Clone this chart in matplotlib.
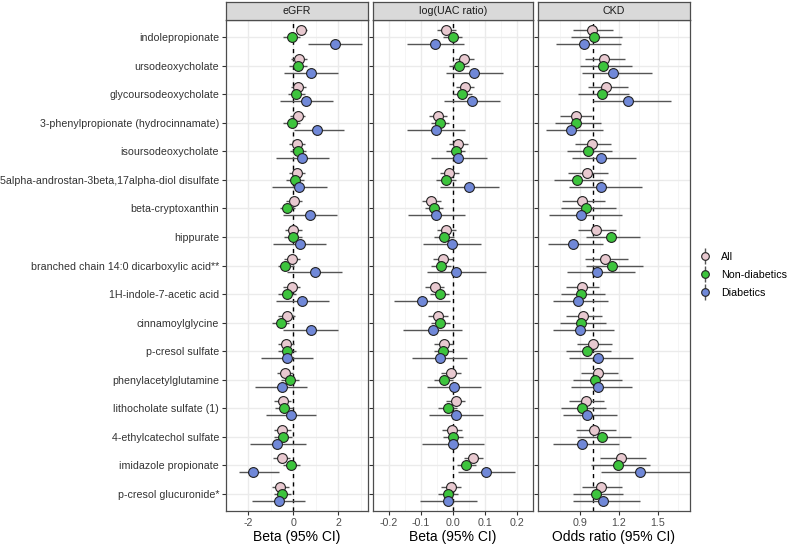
import matplotlib.pyplot as plt
import numpy as np
from matplotlib.lines import Line2D

metabolites = [
    'indolepropionate', 'ursodeoxycholate', 'glycoursodeoxycholate',
    '3-phenylpropionate (hydrocinnamate)', 'isoursodeoxycholate',
    '5alpha-androstan-3beta,17alpha-diol disulfate', 'beta-cryptoxanthin',
    'hippurate', 'branched chain 14:0 dicarboxylic acid**',
    '1H-indole-7-acetic acid', 'cinnamoylglycine', 'p-cresol sulfate',
    'phenylacetylglutamine', 'lithocholate sulfate (1)',
    '4-ethylcatechol sulfate', 'imidazole propionate', 'p-cresol glucuronide*',
]
groups = ['All', 'Non-diabetics', 'Diabetics']

# eGFR: estimate, lower, upper
egfr_all = [0.36, 0.27, 0.22, 0.19, 0.18, 0.16, 0.03, 0.00, -0.05, -0.08, -0.30, -0.33, -0.37, -0.48, -0.50, -0.52, -0.60]
egfr_all_lo = [0.10, -0.10, -0.12, -0.14, -0.17, -0.20, -0.33, -0.38, -0.40, -0.45, -0.67, -0.70, -0.74, -0.85, -0.87, -0.89, -0.95]
egfr_all_hi = [0.63, 0.63, 0.56, 0.53, 0.52, 0.51, 0.39, 0.37, 0.32, 0.30, 0.07, 0.05, 0.00, -0.09, -0.12, -0.13, -0.20]
egfr_nd = [-0.08, 0.22, 0.14, -0.08, 0.20, 0.07, -0.26, -0.01, -0.36, -0.27, -0.56, -0.29, -0.16, -0.42, -0.47, -0.10, -0.50]
egfr_nd_lo = [-0.47, -0.18, -0.24, -0.46, -0.16, -0.32, -0.60, -0.40, -0.70, -0.66, -0.93, -0.69, -0.55, -0.82, -0.87, -0.46, -0.88]
egfr_nd_hi = [0.30, 0.60, 0.52, 0.30, 0.57, 0.47, 0.08, 0.38, 0.02, 0.12, -0.18, 0.10, 0.24, -0.02, -0.06, 0.29, -0.12]
egfr_d = [1.84, 0.78, 0.58, 1.06, 0.41, 0.26, 0.75, 0.29, 0.96, 0.40, 0.77, -0.28, -0.49, -0.12, -0.74, -1.80, -0.63]
egfr_d_lo = [0.67, -0.40, -0.60, 0.03, -0.75, -0.97, -0.44, -0.90, -0.27, -0.79, -0.47, -1.45, -1.70, -1.20, -1.95, -2.40, -1.82]
egfr_d_hi = [3.05, 2.00, 1.77, 2.28, 1.59, 1.52, 1.96, 1.46, 2.19, 1.57, 1.99, 0.88, 0.62, 1.02, 0.55, -0.63, 0.53]

# log(UAC ratio)
uac_all = [-0.021, 0.034, 0.036, -0.048, 0.017, -0.012, -0.068, -0.021, -0.031, -0.057, -0.047, -0.029, -0.007, 0.008, -0.003, 0.064, -0.006]
uac_all_lo = [-0.049, 0.005, 0.008, -0.076, -0.011, -0.042, -0.097, -0.051, -0.061, -0.087, -0.077, -0.059, -0.037, -0.022, -0.033, 0.035, -0.036]
uac_all_hi = [0.010, 0.066, 0.066, -0.018, 0.047, 0.018, -0.038, 0.009, -0.001, -0.028, -0.017, 0.001, 0.024, 0.038, 0.028, 0.093, 0.025]
uac_nd = [-0.001, 0.018, 0.028, -0.040, 0.008, -0.022, -0.060, -0.029, -0.037, -0.042, -0.040, -0.030, -0.029, -0.016, 0.000, 0.041, -0.015]
uac_nd_lo = [-0.031, -0.012, -0.001, -0.070, -0.022, -0.052, -0.088, -0.060, -0.068, -0.072, -0.070, -0.060, -0.060, -0.046, -0.031, 0.011, -0.046]
uac_nd_hi = [0.029, 0.049, 0.058, -0.011, 0.038, 0.008, -0.031, 0.003, -0.006, -0.012, -0.010, 0.000, 0.001, 0.014, 0.031, 0.071, 0.016]
uac_d = [-0.055, 0.067, 0.058, -0.052, 0.017, 0.051, -0.052, -0.004, 0.010, -0.096, -0.063, -0.042, 0.002, 0.010, -0.001, 0.104, -0.015]
uac_d_lo = [-0.145, -0.023, -0.029, -0.143, -0.070, -0.040, -0.141, -0.094, -0.081, -0.184, -0.155, -0.128, -0.080, -0.074, -0.096, 0.016, -0.103]
uac_d_hi = [0.034, 0.155, 0.146, 0.039, 0.105, 0.145, 0.038, 0.086, 0.103, -0.008, 0.029, 0.044, 0.088, 0.093, 0.096, 0.194, 0.074]

# CKD odds ratio
ckd_all = [0.990, 1.082, 1.103, 0.869, 0.990, 0.954, 0.918, 1.021, 1.092, 0.913, 0.923, 1.003, 1.038, 0.944, 1.008, 1.215, 1.059]
ckd_all_lo = [0.848, 0.938, 0.959, 0.746, 0.862, 0.810, 0.764, 0.882, 0.938, 0.790, 0.792, 0.874, 0.908, 0.818, 0.867, 1.054, 0.918]
ckd_all_hi = [1.156, 1.246, 1.267, 0.995, 1.138, 1.118, 1.092, 1.174, 1.272, 1.049, 1.067, 1.149, 1.190, 1.085, 1.174, 1.408, 1.221]
ckd_nd = [1.010, 1.080, 1.067, 0.869, 0.959, 0.874, 0.944, 1.136, 1.144, 0.910, 0.905, 0.951, 1.018, 0.913, 1.067, 1.192, 1.026]
ckd_nd_lo = [0.830, 0.900, 0.887, 0.708, 0.800, 0.703, 0.751, 0.944, 0.944, 0.751, 0.746, 0.792, 0.844, 0.751, 0.874, 0.982, 0.848]
ckd_nd_hi = [1.225, 1.300, 1.277, 1.060, 1.149, 1.080, 1.174, 1.362, 1.387, 1.092, 1.097, 1.138, 1.221, 1.100, 1.290, 1.438, 1.233]
ckd_d = [0.933, 1.154, 1.269, 0.831, 1.059, 1.062, 0.905, 0.848, 1.028, 0.882, 0.900, 1.036, 1.038, 0.951, 0.918, 1.364, 1.080]
ckd_d_lo = [0.715, 0.913, 1.003, 0.636, 0.836, 0.815, 0.662, 0.656, 0.797, 0.690, 0.690, 0.818, 0.831, 0.767, 0.695, 1.059, 0.848]
ckd_d_hi = [1.215, 1.456, 1.600, 1.074, 1.328, 1.374, 1.226, 1.080, 1.323, 1.118, 1.164, 1.305, 1.297, 1.182, 1.203, 1.754, 1.362]

colors = ['#E8C9D0', '#3DC43D', '#7088D8']

panels = [
    ('eGFR', 'Beta (95% CI)', 0, [-2, 0, 2], ['-2', '0', '2'], (-2.55, 3.33),
     [(egfr_all, egfr_all_lo, egfr_all_hi), (egfr_nd, egfr_nd_lo, egfr_nd_hi), (egfr_d, egfr_d_lo, egfr_d_hi)]),
    ('log(UAC ratio)', 'Beta (95% CI)', 0, [-0.2, -0.1, 0.0, 0.1, 0.2], ['-0.2', '-0.1', '0.0', '0.1', '0.2'], (-0.205, 0.21),
     [(uac_all, uac_all_lo, uac_all_hi), (uac_nd, uac_nd_lo, uac_nd_hi), (uac_d, uac_d_lo, uac_d_hi)]),
    ('CKD', 'Odds ratio (95% CI)', 1, [0.9, 1.2, 1.5], ['0.9', '1.2', '1.5'], (0.577, 1.746),
     [(ckd_all, ckd_all_lo, ckd_all_hi), (ckd_nd, ckd_nd_lo, ckd_nd_hi), (ckd_d, ckd_d_lo, ckd_d_hi)]),
]


def main():
    plt.rcParams['font.family'] = ['Liberation Sans', 'DejaVu Sans']
    fig = plt.figure(figsize=(8, 5.44), dpi=100)
    W, H = 800, 544
    lefts = [226, 373, 538]
    rights = [368, 533, 690]
    top, bottom = 20, 511
    ypos = np.arange(len(metabolites))
    offsets = [-0.245, 0, 0.245]

    for k, (title, xlabel, ref, ticks, ticklabels, xlim, series) in enumerate(panels):
        ax = fig.add_axes([lefts[k] / W, 1 - bottom / H, (rights[k] - lefts[k]) / W, (bottom - top) / H])
        ax.set_xlim(*xlim)
        ax.set_ylim(len(metabolites) - 0.4, -0.6)
        ax.set_xticks(ticks)
        ax.set_xticklabels(ticklabels)
        minor = [(a + b) / 2 for a, b in zip(ticks[:-1], ticks[1:])]
        step = ticks[1] - ticks[0]
        minor = [ticks[0] - step / 2] + minor + [ticks[-1] + step / 2]
        ax.set_xticks(minor, minor=True)
        ax.grid(which='major', color='#EBEBEB', lw=1.0, zorder=0)
        ax.grid(which='minor', axis='x', color='#F4F4F4', lw=0.6, zorder=0)
        ax.set_axisbelow(True)
        ax.set_yticks(ypos)
        if k == 0:
            ax.set_yticklabels(metabolites)
        else:
            ax.set_yticklabels([])
        ax.tick_params(axis='both', which='major', length=3, color='#333333', labelsize=7.7, labelcolor='#4D4D4D', pad=2)
        ax.tick_params(axis='y', labelcolor='#333333')
        ax.tick_params(which='minor', length=0)
        for s in ax.spines.values():
            s.set_color('#4D4D4D')
            s.set_linewidth(0.9)
        ax.axvline(ref, color='black', ls=(0, (3, 3)), lw=1.0, zorder=1)

        for g, (est, lo, hi) in enumerate(series):
            y = ypos + offsets[g]
            ax.hlines(y, lo, hi, color='#555555', lw=1.0, zorder=2)
            ax.scatter(est, y, s=50, color=colors[g], edgecolors='#222222', linewidths=0.8, zorder=3)

        ax.set_xlabel(xlabel, fontsize=10, labelpad=1.5)

        # strip
        sax = fig.add_axes([lefts[k] / W, 1 - top / H, (rights[k] - lefts[k]) / W, 18 / H])
        sax.set_facecolor('#D9D9D9')
        sax.set_xticks([])
        sax.set_yticks([])
        for s in sax.spines.values():
            s.set_color('#4D4D4D')
            s.set_linewidth(0.9)
        sax.text(0.5, 0.5, title, ha='center', va='center', fontsize=7.7, color='#1A1A1A', transform=sax.transAxes)

    handles = []
    for g in range(3):
        bar = Line2D([], [], marker='|', markersize=12, color='#555555', ls='none', markeredgewidth=1.0)
        dot = Line2D([], [], marker='o', markersize=5.5, markerfacecolor=colors[g], markeredgecolor='#222222',
                     markeredgewidth=0.8, ls='none')
        handles.append((bar, dot))
    fig.legend(handles, groups, loc='center left', bbox_to_anchor=(690 / W, 1 - 275 / H), frameon=False,
               fontsize=7.7, handlelength=1.0, handletextpad=1.0, labelspacing=0.75)

    fig.savefig('out.png', dpi=100)


if __name__ == '__main__':
    main()
